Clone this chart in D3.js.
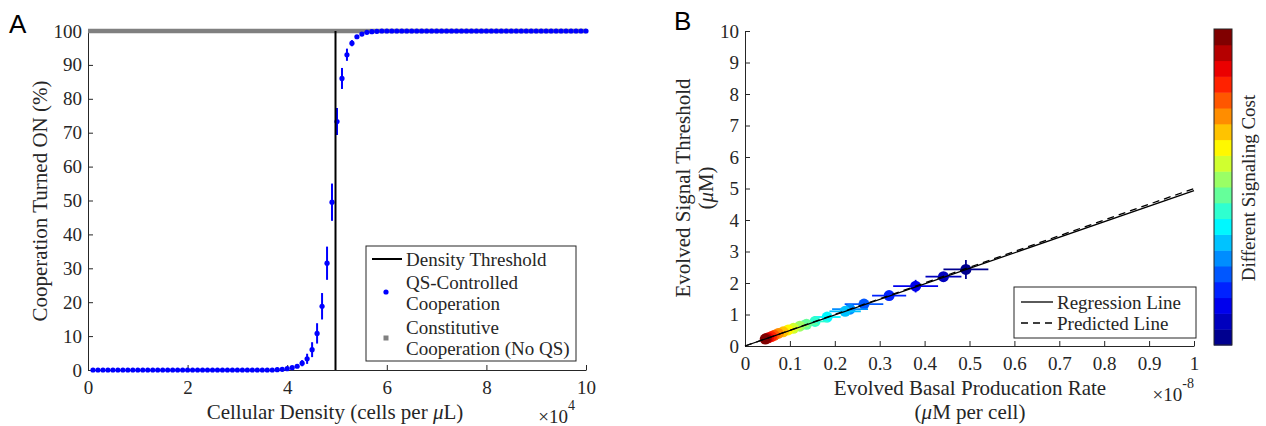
<!DOCTYPE html>
<html>
<head>
<meta charset="utf-8">
<script src="https://cdn.jsdelivr.net/npm/d3@7"></script>
<style>
  body { margin: 0; background: #fff; }
</style>
</head>
<body>
<div id="chart"></div>
<script>
// ---- panel A: cooperation vs cellular density (x10^4 cells per uL)
const density = [
  0.1, 0.2, 0.3, 0.4, 0.5, 0.6, 0.7, 0.8, 0.9, 1.0,
  1.1, 1.2, 1.3, 1.4, 1.5, 1.6, 1.7, 1.8, 1.9, 2.0,
  2.1, 2.2, 2.3, 2.4, 2.5, 2.6, 2.7, 2.8, 2.9, 3.0,
  3.1, 3.2, 3.3, 3.4, 3.5, 3.6, 3.7, 3.8, 3.9, 4.0,
  4.1, 4.2, 4.3, 4.4, 4.5, 4.6, 4.7, 4.8, 4.9, 5.0,
  5.1, 5.2, 5.3, 5.4, 5.5, 5.6, 5.7, 5.8, 5.9, 6.0,
  6.1, 6.2, 6.3, 6.4, 6.5, 6.6, 6.7, 6.8, 6.9, 7.0,
  7.1, 7.2, 7.3, 7.4, 7.5, 7.6, 7.7, 7.8, 7.9, 8.0,
  8.1, 8.2, 8.3, 8.4, 8.5, 8.6, 8.7, 8.8, 8.9, 9.0,
  9.1, 9.2, 9.3, 9.4, 9.5, 9.6, 9.7, 9.8, 9.9, 10.0
];
const coopOn = [
  0, 0, 0, 0, 0, 0, 0, 0, 0, 0,
  0, 0, 0, 0, 0, 0, 0, 0, 0, 0,
  0, 0, 0, 0, 0, 0, 0, 0, 0, 0,
  0, 0, 0, 0, 0, 0, 0, 0.1, 0.2, 0.4,
  0.7, 1.1, 2.0, 3.3, 6.0, 10.8, 18.8, 31.5, 49.5, 73.3,
  86.0, 93.0, 96.4, 98.3, 99.1, 99.6, 99.8, 99.9, 100, 100,
  100, 100, 100, 100, 100, 100, 100, 100, 100, 100,
  100, 100, 100, 100, 100, 100, 100, 100, 100, 100,
  100, 100, 100, 100, 100, 100, 100, 100, 100, 100,
  100, 100, 100, 100, 100, 100, 100, 100, 100, 100
];
const coopErr = [
  0, 0, 0, 0, 0, 0, 0, 0, 0, 0,
  0, 0, 0, 0, 0, 0, 0, 0, 0, 0,
  0, 0, 0, 0, 0, 0, 0, 0, 0, 0,
  0, 0, 0, 0, 0, 0, 0, 0.1, 0.1, 0.2,
  0.3, 0.5, 0.9, 1.5, 2.2, 3.0, 3.9, 4.9, 5.5, 4.0,
  3.1, 1.8, 0.9, 0.5, 0.3, 0.2, 0.1, 0.1, 0, 0,
  0, 0, 0, 0, 0, 0, 0, 0, 0, 0,
  0, 0, 0, 0, 0, 0, 0, 0, 0, 0,
  0, 0, 0, 0, 0, 0, 0, 0, 0, 0,
  0, 0, 0, 0, 0, 0, 0, 0, 0, 0
];
const constDensity = [0, 10];
const constCoop = [100, 100];
const densityThreshold = 4.97;
const xTicksA = [0, 2, 4, 6, 8, 10];
const yTicksA = [0, 10, 20, 30, 40, 50, 60, 70, 80, 90, 100];

// ---- panel B: evolved threshold vs basal production rate (x10^-8)
const basalRate = [0.492, 0.442, 0.380, 0.321, 0.265, 0.234, 0.223, 0.183, 0.156, 0.137,
                   0.122, 0.108, 0.096, 0.085, 0.074, 0.065, 0.059, 0.052, 0.048, 0.045];
const basalErr = [0.05, 0.04, 0.05, 0.038, 0.043, 0.04, 0.035, 0.03, 0.03, 0.025,
                  0.02, 0.018, 0.015, 0.013, 0.012, 0.01, 0.008, 0.007, 0.006, 0.005];
const signalThreshold = [2.43, 2.20, 1.90, 1.60, 1.33, 1.17, 1.10, 0.92, 0.78, 0.69,
                         0.63, 0.56, 0.51, 0.45, 0.40, 0.34, 0.30, 0.26, 0.24, 0.22];
const thresholdErr = [0.3, 0.15, 0.2, 0.12, 0.15, 0.1, 0.08, 0.1, 0.12, 0.08,
                      0.06, 0.05, 0.05, 0.04, 0.04, 0.03, 0.03, 0.02, 0.02, 0.02];
const costLevel = [0, 1, 2, 3, 4, 5, 6, 7, 8, 9, 10, 11, 12, 13, 14, 15, 16, 17, 18, 19];
const lineX = [0, 1];
const regressionY = [0, 4.93];
const predictedY = [0, 5.0];
const xTicksB = [0, 0.1, 0.2, 0.3, 0.4, 0.5, 0.6, 0.7, 0.8, 0.9, 1];
const yTicksB = [0, 1, 2, 3, 4, 5, 6, 7, 8, 9, 10];

const axisColor = "#262626";
const serif = "Liberation Serif";
const sans = "Liberation Sans";

const svg = d3.select("#chart").append("svg")
  .attr("width", 1266).attr("height", 426)
  .attr("font-family", serif);

// jet colormap
const jet = d3.scaleLinear()
  .domain([0, 1 / 8, 3 / 8, 5 / 8, 7 / 8, 1])
  .range(["#00008f", "#0000ff", "#00ffff", "#ffff00", "#ff0000", "#800000"]);
const costColor = d3.scaleLinear().domain([0, costLevel.length - 1]).range([0, 1]);

function styleAxis(g) {
  g.attr("font-family", serif).attr("font-size", 19);
  g.select(".domain").attr("stroke", axisColor).attr("stroke-width", 1);
  g.selectAll(".tick line").attr("stroke", axisColor).attr("stroke-width", 1);
  g.selectAll(".tick text").attr("fill", axisColor).attr("font-family", serif);
}

// helper for plain text
function label(x, y, size, anchor) {
  return svg.append("text").attr("x", x).attr("y", y)
    .attr("font-family", serif).attr("font-size", size)
    .attr("text-anchor", anchor || "start").attr("fill", axisColor);
}

// ================= Panel A =================
const xA = d3.scaleLinear().domain([0, 10]).range([88, 586]);
const yA = d3.scaleLinear().domain([0, 100]).range([370, 31]);

svg.append("g")
  .attr("transform", `translate(0,${yA(0)})`)
  .call(d3.axisBottom(xA).tickValues(xTicksA).tickSizeInner(-5).tickSizeOuter(0).tickPadding(11))
  .call(styleAxis);

svg.append("g")
  .attr("transform", `translate(${xA(0)},0)`)
  .call(d3.axisLeft(yA).tickValues(yTicksA).tickSizeInner(-5).tickSizeOuter(0).tickPadding(6))
  .call(styleAxis);

// constitutive cooperation (gray, at 100%)
svg.append("path")
  .datum(constDensity.map((d, i) => [d, constCoop[i]]))
  .attr("d", d3.line().x(d => xA(d[0])).y(d => yA(d[1])))
  .attr("stroke", "#808080").attr("stroke-width", 4.5).attr("fill", "none");

// QS-controlled cooperation with error bars
const qs = density.map((d, i) => ({ x: d, y: coopOn[i], e: coopErr[i] }));
svg.append("g").selectAll("line")
  .data(qs.filter(d => d.e > 0))
  .join("line")
  .attr("x1", d => xA(d.x)).attr("x2", d => xA(d.x))
  .attr("y1", d => yA(d.y - d.e)).attr("y2", d => yA(d.y + d.e))
  .attr("stroke", "#0000ff").attr("stroke-width", 2);
svg.append("g").selectAll("circle")
  .data(qs)
  .join("circle")
  .attr("cx", d => xA(d.x)).attr("cy", d => yA(d.y))
  .attr("r", 2.6).attr("fill", "#0000ff");

// density threshold
svg.append("line")
  .attr("x1", xA(densityThreshold)).attr("x2", xA(densityThreshold))
  .attr("y1", yA(0)).attr("y2", yA(100))
  .attr("stroke", "#000").attr("stroke-width", 2);

// labels
svg.append("text").attr("font-family", sans)
  .attr("x", 9).attr("y", 33).attr("font-size", 26).attr("fill", "#000").text("A");

const xLabA = label(335, 419, 21, "middle");
xLabA.append("tspan").text("Cellular Density (cells per ");
xLabA.append("tspan").attr("font-style", "italic").text("μ");
xLabA.append("tspan").text("L)");

label(0, 0, 21, "middle")
  .attr("transform", "translate(40,201) rotate(-90)")
  .attr("dy", "0.35em")
  .text("Cooperation Turned ON (%)");

const expA = label(575, 423, 19, "end");
expA.append("tspan").text("×10");
expA.append("tspan").attr("dy", -13).attr("font-size", 14).text("4");

// legend A
const legA = svg.append("g");
legA.append("rect").attr("x", 366).attr("y", 246).attr("width", 210).attr("height", 115)
  .attr("fill", "#fff").attr("stroke", axisColor).attr("stroke-width", 1);
legA.append("line").attr("x1", 372).attr("x2", 402).attr("y1", 259).attr("y2", 259)
  .attr("stroke", "#000").attr("stroke-width", 2);
legA.append("circle").attr("cx", 386).attr("cy", 292).attr("r", 2.6).attr("fill", "#0000ff");
legA.append("rect").attr("x", 383.5).attr("y", 335.5).attr("width", 5).attr("height", 5).attr("fill", "#808080");
[["Density Threshold", 259], ["QS-Controlled", 282], ["Cooperation", 303],
 ["Constitutive", 327], ["Cooperation (No QS)", 348]].forEach(([t, y]) => {
  label(406, y, 19).attr("dy", "0.35em").text(t);
});

// ================= Panel B =================
const xB = d3.scaleLinear().domain([0, 1]).range([745, 1194]);
const yB = d3.scaleLinear().domain([0, 10]).range([346, 31]);

svg.append("g")
  .attr("transform", `translate(0,${yB(0)})`)
  .call(d3.axisBottom(xB).tickValues(xTicksB).tickFormat(d3.format("~g"))
    .tickSizeInner(-5).tickSizeOuter(0).tickPadding(11))
  .call(styleAxis);

svg.append("g")
  .attr("transform", `translate(${xB(0)},0)`)
  .call(d3.axisLeft(yB).tickValues(yTicksB).tickSizeInner(-5).tickSizeOuter(0).tickPadding(6))
  .call(styleAxis);

const pts = basalRate.map((d, i) => ({
  x: d, y: signalThreshold[i], ex: basalErr[i], ey: thresholdErr[i],
  c: jet(costColor(costLevel[i]))
}));
const ptG = svg.append("g").selectAll("g").data(pts).join("g");
ptG.append("line")
  .attr("x1", d => xB(d.x - d.ex)).attr("x2", d => xB(d.x + d.ex))
  .attr("y1", d => yB(d.y)).attr("y2", d => yB(d.y))
  .attr("stroke", d => d.c).attr("stroke-width", 1.8);
ptG.append("line")
  .attr("x1", d => xB(d.x)).attr("x2", d => xB(d.x))
  .attr("y1", d => yB(d.y - d.ey)).attr("y2", d => yB(d.y + d.ey))
  .attr("stroke", d => d.c).attr("stroke-width", 1.8);
ptG.append("circle")
  .attr("cx", d => xB(d.x)).attr("cy", d => yB(d.y))
  .attr("r", 5.5).attr("fill", d => d.c);

const lineB = d3.line().x(d => xB(d[0])).y(d => yB(d[1]));
svg.append("path")
  .datum(lineX.map((d, i) => [d, predictedY[i]]))
  .attr("d", lineB).attr("fill", "none")
  .attr("stroke", "#000").attr("stroke-width", 1.3).attr("stroke-dasharray", "7,5");
svg.append("path")
  .datum(lineX.map((d, i) => [d, regressionY[i]]))
  .attr("d", lineB).attr("fill", "none")
  .attr("stroke", "#000").attr("stroke-width", 1.3);

// labels
svg.append("text").attr("font-family", sans)
  .attr("x", 674).attr("y", 30).attr("font-size", 26).attr("fill", "#000").text("B");

label(970, 395, 21, "middle").text("Evolved Basal Producation Rate");
const xLabB2 = label(970, 419, 21, "middle");
xLabB2.append("tspan").text("(");
xLabB2.append("tspan").attr("font-style", "italic").text("μ");
xLabB2.append("tspan").text("M per cell)");

label(0, 0, 21, "middle")
  .attr("transform", "translate(683,188) rotate(-90)")
  .attr("dy", "0.35em")
  .text("Evolved Signal Threshold");
const yLabB2 = label(0, 0, 21, "middle")
  .attr("transform", "translate(706,188) rotate(-90)")
  .attr("dy", "0.35em");
yLabB2.append("tspan").text("(");
yLabB2.append("tspan").attr("font-style", "italic").text("μ");
yLabB2.append("tspan").text("M)");

const expB = label(1194, 401, 19, "end");
expB.append("tspan").text("×10");
expB.append("tspan").attr("dy", -13).attr("font-size", 14).text("-8");

// legend B
const legB = svg.append("g");
legB.append("rect").attr("x", 1014).attr("y", 287).attr("width", 182).attr("height", 51)
  .attr("fill", "#fff").attr("stroke", axisColor).attr("stroke-width", 1);
legB.append("line").attr("x1", 1021).attr("x2", 1053).attr("y1", 302).attr("y2", 302)
  .attr("stroke", "#000").attr("stroke-width", 1.3);
legB.append("line").attr("x1", 1021).attr("x2", 1053).attr("y1", 323).attr("y2", 323)
  .attr("stroke", "#000").attr("stroke-width", 1.3).attr("stroke-dasharray", "7,5");
[["Regression Line", 302], ["Predicted Line", 323]].forEach(([t, y]) => {
  label(1057, y, 19).attr("dy", "0.35em").text(t);
});

// colorbar
const cb = d3.scaleBand().domain(costLevel).range([345, 29]);
svg.append("g").selectAll("rect")
  .data(costLevel)
  .join("rect")
  .attr("x", 1214).attr("width", 18)
  .attr("y", d => cb(d)).attr("height", cb.bandwidth() + 0.5)
  .attr("fill", d => jet(costColor(d)));
svg.append("rect").attr("x", 1214).attr("y", 29).attr("width", 18).attr("height", 316)
  .attr("fill", "none").attr("stroke", axisColor).attr("stroke-width", 1);
label(0, 0, 19, "middle")
  .attr("transform", "translate(1248,188) rotate(-90)")
  .attr("dy", "0.35em")
  .text("Different Signaling Cost");
</script>
</body>
</html>
